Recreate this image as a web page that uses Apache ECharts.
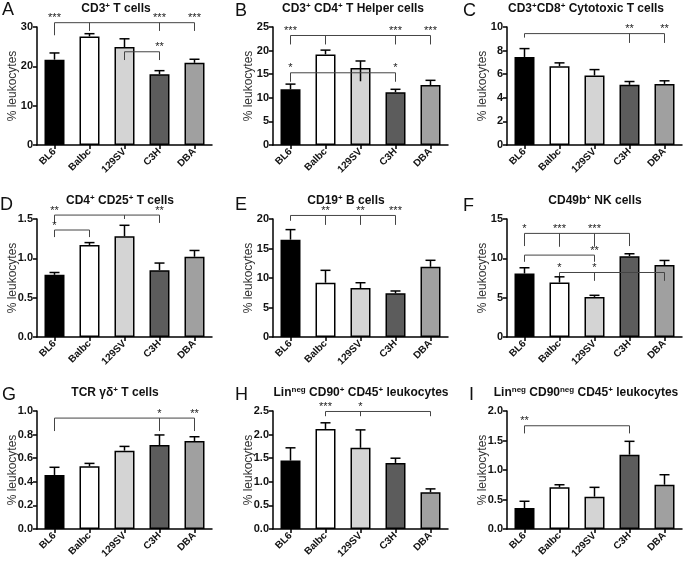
<!DOCTYPE html>
<html><head><meta charset="utf-8">
<script src="https://cdn.jsdelivr.net/npm/echarts@6/dist/echarts.min.js"></script>
<style>html,body{margin:0;padding:0;background:#fff}#c{width:685px;height:562px}</style>
</head><body><div id="c"></div>
<script>
const strains = ['BL6', 'Balbc', '129SV', 'C3H', 'DBA'];

// A: CD3+ T cells
const meanA = [21.7, 27.6, 24.9, 18.0, 20.9];
const errA  = [23.4, 28.3, 27.0, 18.9, 21.8];
const ticksA = ['0', '10', '20', '30'];
const sigA = [
  {y: 31.1, stems: [[0, 27.9, '***'], [1, 29.0, ''], [3, 29.0, '***'], [4, 29.0, '***']]},
  {y: 23.7, stems: [[2, 21.6, ''], [3, 21.6, '**']]}
];
// B: CD3+ CD4+ T Helper cells
const meanB = [11.8, 19.2, 16.3, 11.2, 12.7];
const errB  = [12.9, 20.1, 17.8, 11.8, 13.7];
const lowB  = [null, null, 13.5, null, null];
const ticksB = ['0', '5', '10', '15', '20', '25'];
const sigB = [
  {y: 23.2, stems: [[0, 21.3, '***'], [1, 21.3, ''], [3, 21.3, '***'], [4, 21.3, '***']]},
  {y: 15.3, stems: [[0, 13.4, '*'], [3, 13.4, '*']]}
];
// C: CD3+CD8+ Cytotoxic T cells
const meanC = [7.46, 6.68, 5.89, 5.10, 5.18];
const errC  = [8.17, 6.96, 6.39, 5.38, 5.44];
const ticksC = ['0', '2', '4', '6', '8', '10'];
const sigC = [
  {y: 9.44, stems: [[0, 9.1, ''], [3, 8.65, '**'], [4, 8.65, '**']]}
];
// D: CD4+ CD25+ T cells
const meanD = [0.79, 1.17, 1.28, 0.85, 1.02];
const errD  = [0.82, 1.20, 1.42, 0.94, 1.10];
const ticksD = ['0.0', '0.5', '1.0', '1.5'];
const sigD = [
  {y: 1.55, stems: [[0, 1.45, '**'], [2, 1.50, ''], [3, 1.45, '**']]},
  {y: 1.36, stems: [[0, 1.27, '*'], [1, 1.27, '']]}
];
// E: CD19+ B cells
const meanE = [16.5, 9.2, 8.3, 7.4, 11.9];
const errE  = [18.2, 11.3, 9.2, 7.8, 13.0];
const ticksE = ['0', '5', '10', '15', '20'];
const sigE = [
  {y: 20.6, stems: [[0, 19.7, ''], [1, 19.0, '**'], [2, 19.0, '**'], [3, 19.0, '***']]}
];
// F: CD49b+ NK cells
const meanF = [8.07, 6.93, 5.10, 10.28, 9.14];
const errF  = [8.80, 7.65, 5.30, 10.58, 9.73];
const ticksF = ['0', '5', '10', '15'];
const sigF = [
  {y: 13.17, stems: [[0, 11.56, '*'], [1, 11.47, '***'], [2, 11.47, '***'], [3, 11.56, '']]},
  {y: 10.41, stems: [[0, 9.56, ''], [2, 9.56, '**']]},
  {y: 8.2, stems: [[1, 7.75, '*'], [2, 7.14, '*'], [4, 7.14, '']]}
];
// G: TCR γδ+ T cells
const meanG = [0.458, 0.531, 0.664, 0.712, 0.746];
const errG  = [0.523, 0.556, 0.700, 0.797, 0.782];
const ticksG = ['0.0', '0.2', '0.4', '0.6', '0.8', '1.0'];
const sigG = [
  {y: 0.94, stems: [[0, 0.83, ''], [3, 0.83, '*'], [4, 0.83, '**']]}
];
// H: Lin-neg CD90+ CD45+ leukocytes
const meanH = [1.45, 2.12, 1.72, 1.40, 0.78];
const errH  = [1.72, 2.25, 2.10, 1.50, 0.85];
const ticksH = ['0.0', '0.5', '1.0', '1.5', '2.0', '2.5'];
const sigH = [
  {y: 2.49, stems: [[1, 2.39, '***'], [2, 2.39, '*'], [4, 2.39, '']]}
];
// I: Lin-neg CD90-neg CD45+ leukocytes
const meanI = [0.356, 0.706, 0.548, 1.26, 0.751];
const errI  = [0.47, 0.75, 0.706, 1.486, 0.92];
const ticksI = ['0.0', '0.5', '1.0', '1.5', '2.0'];
const sigI = [
  {y: 1.75, stems: [[0, 1.62, '**'], [3, 1.62, '']]}
];

const letters = ['A', 'B', 'C', 'D', 'E', 'F', 'G', 'H', 'I'];
const titles = [
  'CD3^+^ T cells',
  'CD3^+^ CD4^+^ T Helper cells',
  'CD3^+^CD8^+^ Cytotoxic T cells',
  'CD4^+^ CD25^+^ T cells',
  'CD19^+^ B cells',
  'CD49b^+^ NK cells',
  'TCR γδ^+^ T cells',
  'Lin^neg^ CD90^+^ CD45^+^ leukocytes',
  'Lin^neg^ CD90^neg^ CD45^+^ leukocytes'
];
const yName = '% leukocytes';

const panels = [
  {mean: meanA, err: errA, ticks: ticksA, sig: sigA},
  {mean: meanB, err: errB, low: lowB, ticks: ticksB, sig: sigB},
  {mean: meanC, err: errC, ticks: ticksC, sig: sigC},
  {mean: meanD, err: errD, ticks: ticksD, sig: sigD},
  {mean: meanE, err: errE, ticks: ticksE, sig: sigE},
  {mean: meanF, err: errF, ticks: ticksF, sig: sigF},
  {mean: meanG, err: errG, ticks: ticksG, sig: sigG},
  {mean: meanH, err: errH, ticks: ticksH, sig: sigH},
  {mean: meanI, err: errI, ticks: ticksI, sig: sigI}
];

// layout & style
const FONT = 'Liberation Sans, Arial, Helvetica, sans-serif';
const barColors = ['#000000', '#ffffff', '#d4d4d4', '#5c5c5c', '#a0a0a0'];
const colLeft = [37, 273, 507];
const rowTop = [27, 219, 411];
const gridW = 175, gridH = 118;
const titleX = [116, 353, 586, 120, 346, 595, 115, 361, 586];
const titleY = [9, 9, 9, 201, 201, 201, 393, 393, 393];
const letterX = [2, 235, 463, 0, 235, 463, 2, 235, 469];
const letterY = [10, 11, 11, 205, 205, 206, 395, 395, 395];

function richTitle(s) {
  return s.split('^').map((p, i) => p ? '{' + (i % 2 ? 's' : 't') + '|' + p + '}' : '').join('');
}

const grid = [], xAxis = [], yAxis = [], series = [], graphic = [];
panels.forEach((p, i) => {
  const col = i % 3, row = Math.floor(i / 3);
  grid.push({left: colLeft[col], top: rowTop[row], width: gridW, height: gridH,
             containLabel: false, outerBoundsMode: 'none'});
  xAxis.push({
    type: 'category', gridIndex: i, data: strains,
    axisLine: {show: true, lineStyle: {color: '#000', width: 1.5}},
    axisTick: {show: true, alignWithLabel: true, length: 4, lineStyle: {color: '#000', width: 1.5}},
    axisLabel: {rotate: 45, interval: 0, fontSize: 10, fontWeight: 'bold', color: '#111',
                fontFamily: FONT, margin: 5},
    splitLine: {show: false}
  });
  const tv = p.ticks.map(Number);
  yAxis.push({
    type: 'value', gridIndex: i, min: tv[0], max: tv[tv.length - 1], interval: tv[1] - tv[0],
    name: yName, nameLocation: 'middle', nameGap: 18, nameMoveOverlap: false,
    nameTextStyle: {fontSize: 12, color: '#333', fontFamily: FONT},
    axisLine: {show: true, lineStyle: {color: '#000', width: 1.5}},
    axisTick: {show: true, length: 4, lineStyle: {color: '#000', width: 1.5}},
    axisLabel: {fontSize: 11, fontWeight: 'bold', color: '#111', fontFamily: FONT, margin: 4,
      formatter: v => { const k = tv.findIndex(t => Math.abs(t - v) < 1e-9); return k >= 0 ? p.ticks[k] : ''; }},
    splitLine: {show: false}
  });
  series.push({
    type: 'bar', xAxisIndex: i, yAxisIndex: i, barWidth: 20, silent: true, z: 2,
    itemStyle: {borderColor: '#000', borderWidth: 1.5},
    data: p.mean.map((v, k) => ({value: v, itemStyle: {color: barColors[k]}}))
  });
  series.push({
    type: 'custom', xAxisIndex: i, yAxisIndex: i, z: 4, clip: false, silent: true,
    data: p.mean.map((m, k) => [k, (p.low && p.low[k] != null) ? p.low[k] : m, p.err[k]]),
    encode: {x: 0, y: [1, 2]},
    renderItem: (params, api) => {
      const x = api.value(0);
      const a = api.coord([x, api.value(1)]), b = api.coord([x, api.value(2)]);
      const st = {stroke: '#000', lineWidth: 1.5};
      return {type: 'group', children: [
        {type: 'line', shape: {x1: a[0], y1: a[1], x2: b[0], y2: b[1]}, style: st},
        {type: 'line', shape: {x1: b[0] - 5, y1: b[1], x2: b[0] + 5, y2: b[1]}, style: st}
      ]};
    }
  });
  series.push({
    type: 'custom', xAxisIndex: i, yAxisIndex: i, z: 5, clip: false, silent: true,
    data: p.sig.map(s => [s.stems[0][0], s.y]),
    encode: {x: 0, y: 1},
    renderItem: (params, api) => {
      const s = p.sig[params.dataIndex];
      const xs = s.stems.map(t => t[0]);
      const L = api.coord([Math.min(...xs), s.y]), R = api.coord([Math.max(...xs), s.y]);
      const st = {stroke: '#444', lineWidth: 1};
      const ch = [{type: 'line', shape: {x1: L[0], y1: L[1], x2: R[0], y2: R[1]}, style: st}];
      s.stems.forEach(t => {
        const a = api.coord([t[0], s.y]), b = api.coord([t[0], t[1]]);
        ch.push({type: 'line', shape: {x1: a[0], y1: a[1], x2: b[0], y2: b[1]}, style: st});
        if (t[2]) ch.push({type: 'text', style: {text: t[2], x: a[0], y: a[1] + 1, align: 'center',
          verticalAlign: 'bottom', fill: '#222', font: '11px ' + FONT}});
      });
      return {type: 'group', children: ch};
    }
  });
  graphic.push({type: 'text', x: titleX[i], y: titleY[i], silent: true,
    style: {text: richTitle(titles[i]), align: 'center', verticalAlign: 'middle',
      rich: {t: {fontSize: 12, fontWeight: 'bold', fontFamily: FONT, fill: '#111', lineHeight: 14},
             s: {fontSize: 8, fontWeight: 'bold', fontFamily: FONT, fill: '#111', lineHeight: 9, verticalAlign: 'top'}}}});
  graphic.push({type: 'text', x: letterX[i], y: letterY[i], silent: true,
    style: {text: letters[i], align: 'left', verticalAlign: 'middle', fill: '#111',
      font: '18px ' + FONT}});
});

const chart = echarts.init(document.getElementById('c'), null, {renderer: 'canvas'});
chart.setOption({backgroundColor: '#fff', animation: false, grid, xAxis, yAxis, series, graphic});
</script>
</body></html>
